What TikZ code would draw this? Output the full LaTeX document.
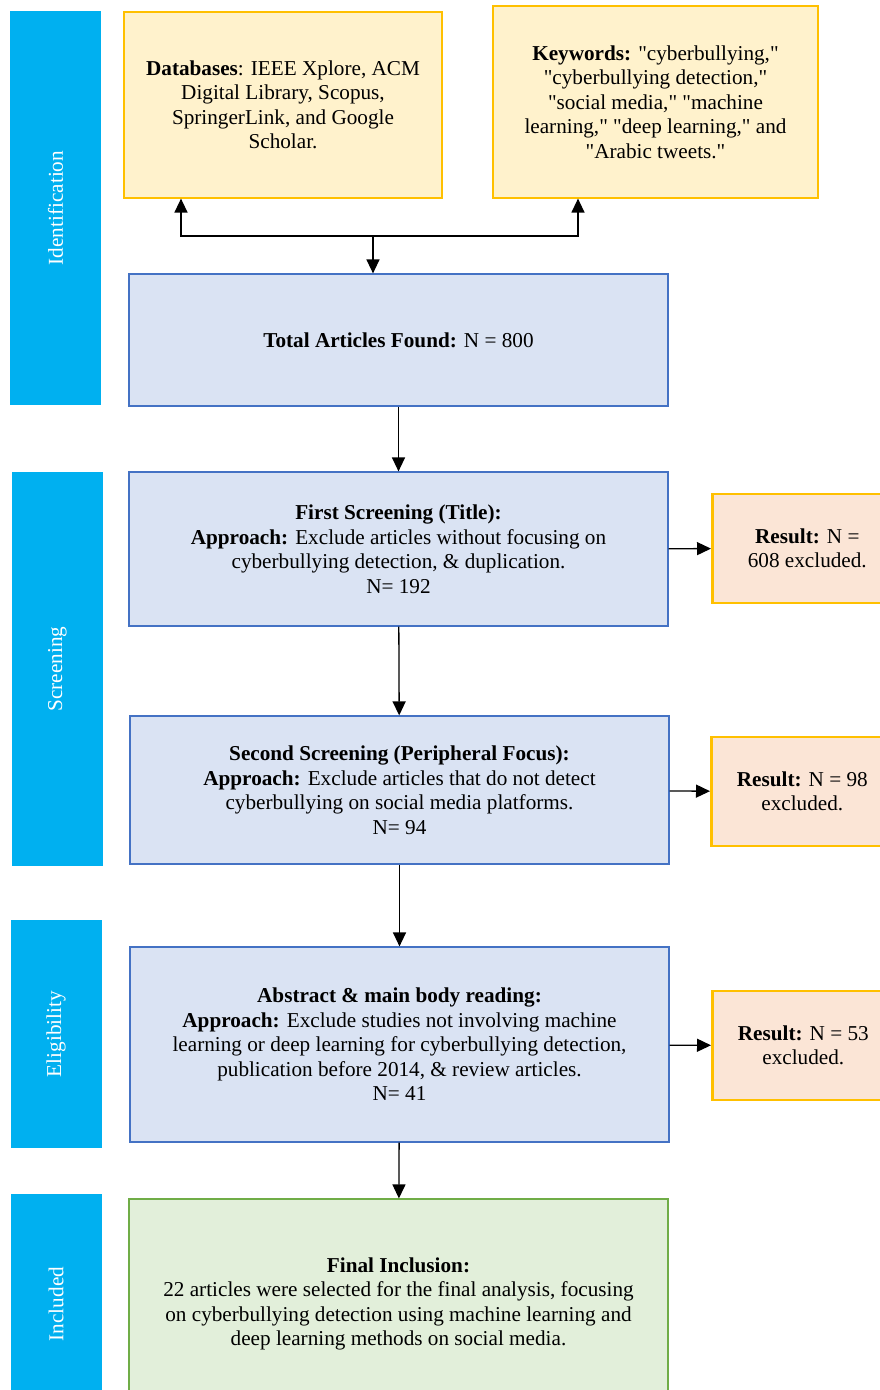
\documentclass[tikz,border=0pt]{standalone}
\usepackage{fontspec}
\setmainfont{Liberation Serif}
\usetikzlibrary{positioning,arrows.meta,calc}
\definecolor{phaseblue}{HTML}{00B0F0}
\definecolor{srcfill}{HTML}{FFF2CC}
\definecolor{gold}{HTML}{FFC000}
\definecolor{stepfill}{HTML}{DAE3F3}
\definecolor{stepline}{HTML}{4472C4}
\definecolor{resfill}{HTML}{FBE5D6}
\definecolor{finfill}{HTML}{E2EFDA}
\definecolor{finline}{HTML}{70AD47}
\newcommand{\qw}[1]{\textquotedbl#1\textquotedbl}
\tikzset{
  >={Triangle[length=14pt,width=13pt]},
  every node/.style={font=\fontsize{21.2}{24.5}\selectfont, align=center, inner sep=0pt},
}

\begin{document}
\begin{tikzpicture}[
  x=1pt,y=-1pt,
  line width=1.3pt,
  phase/.style={fill=phaseblue, text=white, minimum height=91pt, rotate=90},
  source/.style={draw=gold, fill=srcfill, line width=1.2pt},
  stepbox/.style={draw=stepline, fill=stepfill, line width=1.2pt, minimum width=539pt},
  result/.style={draw=gold, fill=resfill, line width=2.6pt, minimum width=182pt, minimum height=109pt},
  final/.style={draw=finline, fill=finfill, line width=1.2pt, minimum width=539pt}
]
\useasboundingbox (0,0) rectangle (880,1390);
\clip (0,0) rectangle (880,1390);

% Phases
\node[phase, minimum width=394pt] (ident) at (55.5,208) {Identification};
\node[phase, minimum width=394pt] (screen) at (57.5,669) {Screening};
\node[phase, minimum width=228pt] (elig) at (56,1034) {Eligibility};
\node[phase, minimum width=220pt] (incl) at (56,1304) {Included};

% Sources
\node[source, minimum width=318pt, minimum height=186pt] (db) at (283,105)
  {\textbf{Databases}: IEEE Xplore, ACM\\Digital Library, Scopus,\\SpringerLink, and Google\\Scholar.};
\node[source, minimum width=325pt, minimum height=192pt] (kw) at (655.5,102)
  {\textbf{Keywords:} \qw{cyberbullying,}\\\qw{cyberbullying detection,}\\\qw{social media,} \qw{machine\\learning,} \qw{deep learning,} and\\\qw{Arabic tweets.}};

% Steps
\node[stepbox, minimum height=132pt] (total) at (398.5,340) {\textbf{Total Articles Found:} N = 800};
\node[stepbox, minimum height=154pt] (first) at (398.5,549)
  {\textbf{First Screening (Title):}\\\textbf{Approach:} Exclude articles without focusing on\\cyberbullying detection, \& duplication.\\N= 192};
\node[stepbox, minimum height=148pt] (second) at (399.5,790)
  {\textbf{Second Screening (Peripheral Focus):}\\\textbf{Approach:} Exclude articles that do not detect\\cyberbullying on social media platforms.\\N= 94};
\node[stepbox, minimum height=195pt] (abstr) at (399.5,1044.5)
  {\textbf{Abstract \& main body reading:}\\\textbf{Approach:} Exclude studies not involving machine\\learning or deep learning for cyberbullying detection,\\publication before 2014, \& review articles.\\N= 41};
\node[final, minimum height=210pt] (fin) at (398.5,1304)
  {\textbf{Final Inclusion:}\\22 articles were selected for the final analysis, focusing\\on cyberbullying detection using machine learning and\\deep learning methods on social media.};

% Exclusions
\node[result, anchor=west, minimum width=190pt] (res1) at (711,548.5) {\textbf{Result:} N =\\608 excluded.};
\node[result, anchor=west] (res2) at (710,791.5) {\textbf{Result:} N = 98\\excluded.};
\node[result, anchor=west] (res3) at (711,1045.5) {\textbf{Result:} N = 53\\excluded.};

% Connectors
\coordinate (fork) at (373,236);
\draw[->] (fork) -| ([xshift=-102pt]db.south);
\draw[->] (fork) -| ([xshift=-77.5pt]kw.south);
\draw[->] (fork) -- (fork |- total.north);
\draw[->] (total) -- (first);
\draw[->] (first) -- (second);
\draw[->] (second) -- (abstr);
\draw[->] (abstr) -- (fin);
\draw[->] (first) -- (res1);
\draw[->] (second) -- (res2);
\draw[->] (abstr) -- (res3);

\end{tikzpicture}
\end{document}
